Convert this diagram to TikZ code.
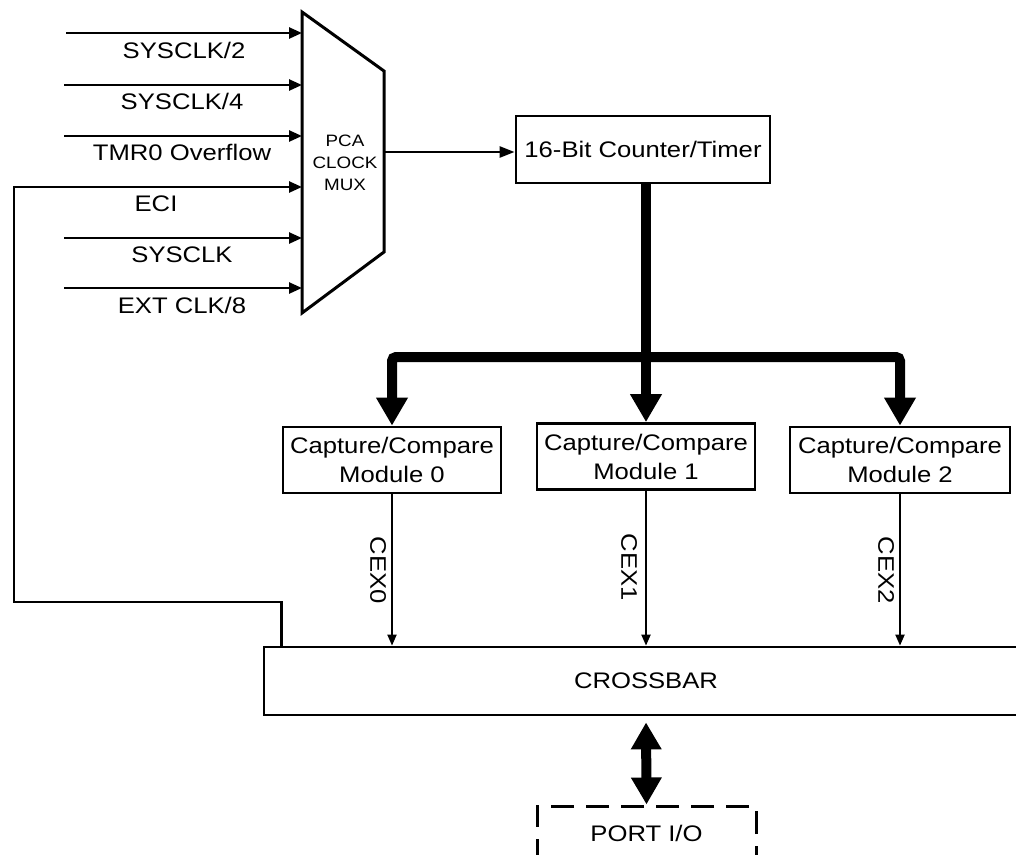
\documentclass[tikz,border=0pt]{standalone}
\usepackage{fontspec}
\setmainfont{Liberation Sans}[FakeStretch=1.14]
\usetikzlibrary{arrows.meta}
\begin{document}
\begin{tikzpicture}[x=1pt,y=-1pt,
  txt/.style={font=\fontsize{22.5}{29}\selectfont, inner sep=0pt},
  box/.style={draw, line width=2.8pt, txt, align=center},
  sig/.style={line width=2.5pt, line join=miter, -{Triangle[length=13pt,width=11pt]}},
  outsig/.style={line width=2.5pt, -{Triangle[length=15pt,width=11pt]}},
  cex/.style={line width=2pt, -{Triangle[length=11pt,width=9pt]}},
  bus/.style={line width=10pt, -{Triangle[length=28pt,width=30pt]}},
  dbus/.style={line width=10pt, {Triangle[length=27pt,width=29pt]}-{Triangle[length=27pt,width=29pt]}},
  inlabel/.style={txt, anchor=base}]
\useasboundingbox (0,0) rectangle (1016,854);
\fill[white] (0,0) rectangle (1016,854);
\clip (0,0) rectangle (1016,854);

% clock multiplexer
\draw[line width=3pt, line join=miter] (302,12) -- (384,71) -- (384,252) -- (302,313) -- cycle;
\node[font=\fontsize{16.5}{22}\selectfont, align=center, inner sep=0pt] (mux) at (345,162.5) {PCA\\CLOCK\\MUX};

% input ends on the mux edge
\coordinate (i1) at (302,33);
\coordinate (i2) at (302,85);
\coordinate (i3) at (302,136);
\coordinate (i4) at (302,187);
\coordinate (i5) at (302,238);
\coordinate (i6) at (302,288);
\coordinate (s1) at (66,33);
\coordinate (s2) at (64,85);
\coordinate (s3) at (64,136);
\coordinate (s5) at (64,238);
\coordinate (s6) at (64,288);
\coordinate (mo) at (384,152);

\draw[sig] (s1) -- (i1);
\draw[sig] (s2) -- (i2);
\draw[sig] (s3) -- (i3);
\draw[sig] (s5) -- (i5);
\draw[sig] (s6) -- (i6);

\node[inlabel] (l1) at (184,58) {SYSCLK/2};
\node[inlabel] (l2) at (182,109) {SYSCLK/4};
\node[inlabel] (l3) at (182,160) {TMR0 Overflow};
\node[inlabel] (l4) at (156,211) {ECI};
\node[inlabel] (l5) at (182,262) {SYSCLK};
\node[inlabel] (l6) at (182,313) {EXT CLK/8};

% counter and modules
\node[box, minimum width=254pt, minimum height=67pt] (cnt) at (643,149.5) {16-Bit Counter/Timer};
\draw[outsig] (mo) -- (mo -| cnt.west);

\node[box, minimum width=218pt, minimum height=66pt] (m0) at (392,460) {Capture/Compare\\Module 0};
\node[box, minimum width=218pt, minimum height=66pt] (m1) at (646,456.5) {Capture/Compare\\Module 1};
\node[box, minimum width=220pt, minimum height=66pt] (m2) at (900,460) {Capture/Compare\\Module 2};

% counter bus
\coordinate (busj) at (646,357);
\draw[bus] (cnt.south -| m1.north) -- (m1.north);
\draw[bus, rounded corners=4pt] (busj) -| (m0.north);
\draw[bus, rounded corners=4pt] (busj) -| (m2.north);

% crossbar and port
\node[box, minimum width=764pt, minimum height=68pt] (xbar) at (646,681) {CROSSBAR};
\node[draw, txt, line width=3pt, dash pattern=on 23pt off 12pt, minimum width=219pt, minimum height=54pt] (port) at (646.5,833) {PORT I/O};

\draw[cex] (m0.south) -- (m0.south |- xbar.north);
\draw[cex] (m1.south) -- (m1.south |- xbar.north);
\draw[cex] (m2.south) -- (m2.south |- xbar.north);
\node[txt, rotate=-90] (c0) at (378,570) {CEX0};
\node[txt, rotate=-90] (c1) at (629,567) {CEX1};
\node[txt, rotate=-90] (c2) at (886,570) {CEX2};

\draw[dbus, shorten <=6pt] (xbar.south) -- (port.north);

% ECI feedback from the crossbar
\draw[sig] ([xshift=19pt]xbar.north west) |- (14,602) |- (i4);
\end{tikzpicture}
\end{document}
